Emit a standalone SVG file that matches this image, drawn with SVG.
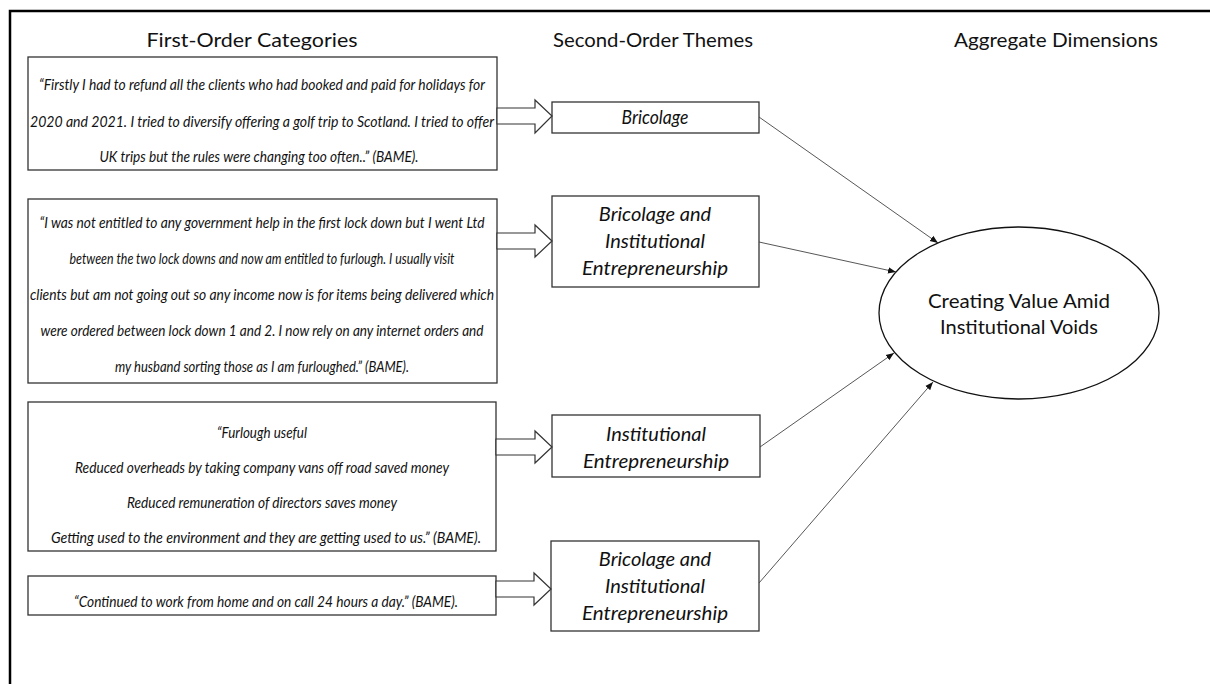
<svg xmlns="http://www.w3.org/2000/svg" width="1210" height="684" viewBox="0 0 1210 684">
<defs>
<marker id="ah" viewBox="0 0 10 10" refX="10" refY="5" markerWidth="8" markerHeight="8" markerUnits="userSpaceOnUse" orient="auto">
<path d="M0,1 L10,5 L0,9 z" fill="#111"/>
</marker>
<style>
.box{fill:#fff;stroke:#333;stroke-width:1.3}
.blk{fill:#fff;stroke:#333;stroke-width:1.2}
.q{font-family:Lato,"Open Sans",sans-serif;font-style:italic;font-size:15px;fill:#111;text-anchor:middle}
.th{font-family:Lato,"Open Sans",sans-serif;font-style:italic;font-size:20px;fill:#111;text-anchor:middle}
.hd{font-family:Lato,"Open Sans",sans-serif;font-size:19px;fill:#111;text-anchor:middle}
.ag{font-family:Lato,"Open Sans",sans-serif;font-size:20px;fill:#111;text-anchor:middle}
.con{stroke:#444;stroke-width:0.9;fill:none}
</style>
</defs>
<rect width="1210" height="684" fill="#fff"/>
<path d="M10,684 V11 H1210" fill="none" stroke="#000" stroke-width="2.5"/>
<g id="headers">
<text class="hd" x="252" y="47" textLength="211" lengthAdjust="spacingAndGlyphs">First-Order Categories</text>
<text class="hd" x="653" y="47" textLength="200" lengthAdjust="spacingAndGlyphs">Second-Order Themes</text>
<text class="hd" x="1056" y="47" textLength="204" lengthAdjust="spacingAndGlyphs">Aggregate Dimensions</text>
</g>
<g id="q1">
<rect class="box" x="28" y="57" width="469" height="113"/>
<text class="q" x="262" y="90" textLength="446" lengthAdjust="spacingAndGlyphs">“Firstly I had to refund all the clients who had booked and paid for holidays for</text>
<text class="q" x="262" y="127" textLength="464" lengthAdjust="spacingAndGlyphs">2020 and 2021. I tried to diversify offering a golf trip to Scotland. I tried to offer</text>
<text class="q" x="259" y="162" textLength="319" lengthAdjust="spacingAndGlyphs">UK trips but the rules were changing too often..” (BAME).</text>
</g>
<g id="q2">
<rect class="box" x="28" y="199" width="469" height="184"/>
<text class="q" x="262" y="228" textLength="445" lengthAdjust="spacingAndGlyphs">“I was not entitled to any government help in the first lock down but I went Ltd</text>
<text class="q" x="262" y="264" textLength="385" lengthAdjust="spacingAndGlyphs">between the two lock downs and now am entitled to furlough. I usually visit</text>
<text class="q" x="262" y="300" textLength="464" lengthAdjust="spacingAndGlyphs">clients but am not going out so any income now is for items being delivered which</text>
<text class="q" x="262" y="336" textLength="443" lengthAdjust="spacingAndGlyphs">were ordered between lock down 1 and 2. I now rely on any internet orders and</text>
<text class="q" x="262" y="372" textLength="294" lengthAdjust="spacingAndGlyphs">my husband sorting those as I am furloughed.” (BAME).</text>
</g>
<g id="q3">
<rect class="box" x="28" y="402" width="468" height="149"/>
<text class="q" x="262" y="438" textLength="90" lengthAdjust="spacingAndGlyphs">“Furlough useful</text>
<text class="q" x="262" y="473" textLength="374" lengthAdjust="spacingAndGlyphs">Reduced overheads by taking company vans off road saved money</text>
<text class="q" x="262" y="508" textLength="270" lengthAdjust="spacingAndGlyphs">Reduced remuneration of directors saves money</text>
<text class="q" x="266" y="543" textLength="430" lengthAdjust="spacingAndGlyphs">Getting used to the environment and they are getting used to us.” (BAME).</text>
</g>
<g id="q4">
<rect class="box" x="28" y="576" width="468" height="39"/>
<text class="q" x="266" y="607" textLength="384" lengthAdjust="spacingAndGlyphs">“Continued to work from home and on call 24 hours a day.” (BAME).</text>
</g>
<g id="t1">
<rect class="box" x="552" y="102" width="207" height="31"/>
<text class="th" x="655" y="124" textLength="67" lengthAdjust="spacingAndGlyphs">Bricolage</text>
</g>
<g id="t2">
<rect class="box" x="552" y="196" width="207" height="91"/>
<text class="th" x="655" y="221">Bricolage and</text>
<text class="th" x="655" y="248">Institutional</text>
<text class="th" x="655" y="275" textLength="146" lengthAdjust="spacingAndGlyphs">Entrepreneurship</text>
</g>
<g id="t3">
<rect class="box" x="552" y="415" width="208" height="62"/>
<text class="th" x="656" y="441">Institutional</text>
<text class="th" x="656" y="468" textLength="146" lengthAdjust="spacingAndGlyphs">Entrepreneurship</text>
</g>
<g id="t4">
<rect class="box" x="551" y="541" width="208" height="90"/>
<text class="th" x="655" y="566">Bricolage and</text>
<text class="th" x="655" y="593">Institutional</text>
<text class="th" x="655" y="620" textLength="146" lengthAdjust="spacingAndGlyphs">Entrepreneurship</text>
</g>
<g id="agg">
<ellipse cx="1019" cy="313" rx="140" ry="86" fill="#fff" stroke="#111" stroke-width="1.3"/>
<text class="ag" x="1019" y="308" textLength="182" lengthAdjust="spacingAndGlyphs">Creating Value Amid</text>
<text class="ag" x="1019" y="334" textLength="158" lengthAdjust="spacingAndGlyphs">Institutional Voids</text>
</g>
<g id="connectors">
<polygon class="blk" points="497,108 535,108 535,100 552,116 535,133 535,124 497,124"/>
<polygon class="blk" points="497,233 535,233 535,225 552,241 535,257 535,249 497,249"/>
<polygon class="blk" points="496,439 535,439 535,431 552,447 535,463 535,455 496,455"/>
<polygon class="blk" points="496,581 534,581 534,573 551,589 534,605 534,597 496,597"/>
<line class="con" x1="759" y1="117" x2="938" y2="243" marker-end="url(#ah)"/>
<line class="con" x1="759" y1="242" x2="896" y2="272" marker-end="url(#ah)"/>
<line class="con" x1="760" y1="447" x2="894" y2="353" marker-end="url(#ah)"/>
<line class="con" x1="759" y1="583" x2="933" y2="382" marker-end="url(#ah)"/>
</g>
</svg>
